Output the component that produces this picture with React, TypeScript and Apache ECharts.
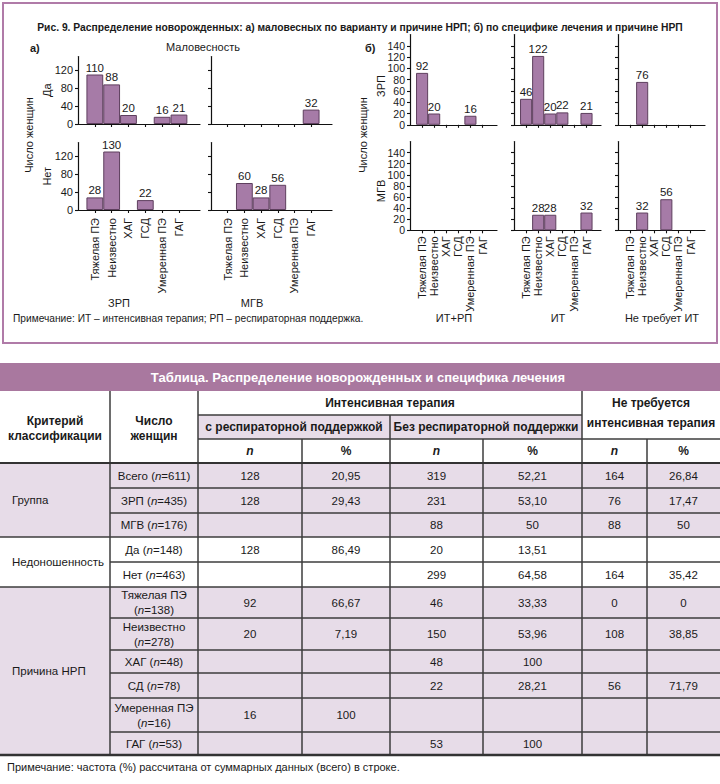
import React, { useEffect, useRef } from "react";
import * as echarts from "echarts";

// ---------- data ----------
const causes = ["Тяжелая ПЭ", "Неизвестно", "ХАГ", "ГСД", "Умеренная ПЭ", "ГАГ"];
const aTicks = [0, 40, 80, 120];
const bTicks = [0, 20, 40, 60, 80, 100, 120, 140];

// а) маловесность (Да/Нет) × вариант (ЗРП/МГВ)
const aZrpYes = [110, 88, 20, null, 16, 21];
const aMgvYes = [null, null, null, null, null, 32];
const aZrpNo = [28, 130, null, 22, null, null];
const aMgvNo = [null, 60, 28, 56, null, null];
// б) специфика лечения (ИТ+РП / ИТ / Не требует ИТ) × вариант
const bZrpItRp = [92, 20, null, null, 16, null];
const bZrpIt = [46, 122, 20, 22, null, 21];
const bZrpNone = [null, 76, null, null, null, null];
const bMgvItRp = [null, null, null, null, null, null];
const bMgvIt = [null, 28, 28, null, null, 32];
const bMgvNone = [null, 32, null, 56, null, null];

const aRowLabels = ["Да", "Нет"];
const aColLabels = ["ЗРП", "МГВ"];
const bRowLabels = ["ЗРП", "МГВ"];
const bColLabels = ["ИТ+РП", "ИТ", "Не требует ИТ"];

// table
const tableRowLabels = ["Всего", "ЗРП", "МГВ", "Да", "Нет", "Тяжелая ПЭ", "Неизвестно", "ХАГ", "СД", "Умеренная ПЭ", "ГАГ"];
const tableRowN = [611, 435, 176, 148, 463, 138, 278, 48, 78, 16, 53];
const itRpN = ["128", "128", "", "128", "", "92", "20", "", "", "16", ""];
const itRpPct = ["20,95", "29,43", "", "86,49", "", "66,67", "7,19", "", "", "100", ""];
const itN = ["319", "231", "88", "20", "299", "46", "150", "48", "22", "", "53"];
const itPct = ["52,21", "53,10", "50", "13,51", "64,58", "33,33", "53,96", "100", "28,21", "", "100"];
const noItN = ["164", "76", "88", "", "164", "0", "108", "", "56", "", ""];
const noItPct = ["26,84", "17,47", "50", "", "35,42", "0", "38,85", "", "71,79", "", ""];
const groupLabels = ["Группа", "Недоношенность", "Причина НРП"];
const groupSpans = [[0, 2], [3, 4], [5, 10]];

// ---------- style ----------
const FONT = '"Liberation Sans", Arial, Helvetica, sans-serif';
const INK = "#1a1a1a";
const BAR = "#a67ba7";
const BAR_EDGE = "#5e3f5e";
const PURPLE = "#a9789f";
const LAVENDER = "#e7dce8";
const GRIDLINE = "#3c3c3c";

function txt(text: string, x: number, y: number, o: any = {}) {
  return {
    type: "text",
    x,
    y,
    rotation: o.rot || 0,
    silent: true,
    style: {
      text,
      fill: o.color || INK,
      fontSize: o.size || 11,
      fontWeight: o.bold ? "bold" : "normal",
      fontStyle: o.italic ? "italic" : "normal",
      fontFamily: FONT,
      align: o.align || "center",
      verticalAlign: "middle",
      lineHeight: o.lh || undefined,
      rich: o.rich || undefined,
    },
  };
}
function ln(x1: number, y1: number, x2: number, y2: number, w = 1.5, c = GRIDLINE) {
  return { type: "line", silent: true, shape: { x1, y1, x2, y2 }, style: { stroke: c, lineWidth: w } };
}
function rc(x: number, y: number, width: number, height: number, style: any) {
  return { type: "rect", silent: true, shape: { x, y, width, height }, style };
}

export default function App() {
  const ref = useRef<HTMLDivElement>(null);

  useEffect(() => {
    if (!ref.current) return;
    const chart = echarts.init(ref.current, null, { renderer: "svg" });

    // panels
    const aCols = [{ left: 78, width: 122 }, { left: 211, width: 121 }];
    const aRows = [{ top: 56.5, height: 67.5 }, { top: 142.5, height: 67.5 }];
    const bCols = [{ left: 410, width: 87 }, { left: 514, width: 87 }, { left: 618, width: 87 }];
    const bRows = [{ top: 34.5, height: 90.3 }, { top: 141.5, height: 88.8 }];

    const panels: any[] = [];
    const aData = [[aZrpYes, aMgvYes], [aZrpNo, aMgvNo]];
    aData.forEach((row, r) =>
      row.forEach((d, c) =>
        panels.push({
          data: d, ...aCols[c], ...aRows[r], max: 150, ticks: aTicks, xmax: 6.25, bw: 16.8,
          showX: r === 1, showY: c === 0, xMargin: 8, yFont: 11,
        })
      )
    );
    const bData = [[bZrpItRp, bZrpIt, bZrpNone], [bMgvItRp, bMgvIt, bMgvNone]];
    bData.forEach((row, r) =>
      row.forEach((d, c) =>
        panels.push({
          data: d, ...bCols[c], ...bRows[r], max: 160, ticks: bTicks, xmax: 6.2, bw: 12.1,
          showX: r === 1, showY: c === 0, xMargin: 6, yFont: 10.5,
        })
      )
    );

    const axisLine = { show: true, onZero: false, lineStyle: { color: "#111", width: 1.2 } };
    const axisTickStyle = { color: "#111", width: 1.1 };
    const catIdx = causes.map((_, i) => i);

    const grid = panels.map((p) => ({
      left: p.left, top: p.top, width: p.width, height: p.height, containLabel: false, outerBoundsMode: "none",
    }));
    const xAxis = panels.map((p, i) => ({
      gridIndex: i, type: "value", min: -1, max: p.xmax,
      axisLine,
      axisTick: { show: true, length: 3, customValues: catIdx, lineStyle: axisTickStyle },
      axisLabel: {
        show: p.showX, customValues: catIdx, rotate: 90, margin: p.xMargin, fontSize: 11,
        color: INK, fontFamily: FONT, formatter: (v: number) => causes[Math.round(v)] ?? "",
      },
      splitLine: { show: false },
    }));
    const yAxis = panels.map((p, i) => ({
      gridIndex: i, type: "value", min: 0, max: p.max,
      axisLine,
      axisTick: { show: true, length: 3, customValues: p.ticks, lineStyle: axisTickStyle },
      axisLabel: { show: p.showY, customValues: p.ticks, margin: 5, fontSize: p.yFont, color: INK, fontFamily: FONT },
      splitLine: { show: false },
    }));
    const series = panels.map((p, i) => ({
      type: "bar", xAxisIndex: i, yAxisIndex: i, barWidth: p.bw, silent: true,
      data: p.data.map((v: number | null, k: number) => (v == null ? null : [k, v])).filter((x: any) => x),
      itemStyle: { color: BAR, borderColor: BAR_EDGE, borderWidth: 1 },
      label: {
        show: true, position: "top", distance: 1, fontSize: 11.5, color: INK, fontFamily: FONT,
        formatter: (q: any) => String(q.value[1]),
      },
    }));

    // ---------- graphic ----------
    const g: any[] = [];
    g.push(rc(3, 3, 714, 340, { fill: "none", stroke: "#b07ba8", lineWidth: 2 }));
    g.push(txt("Рис. 9. Распределение новорожденных: а) маловесных по варианту и причине НРП; б) по специфике лечения и причине НРП", 360, 27, { bold: true, size: 10.3 }));
    g.push(txt("а)", 30, 48, { bold: true, size: 11, align: "left" }));
    g.push(txt("Маловесность", 203, 47, { size: 11 }));
    g.push(txt("Число женщин", 29, 135, { rot: Math.PI / 2, size: 11 }));
    aRowLabels.forEach((t, r) => g.push(txt(t, 47, aRows[r].top + aRows[r].height / 2, { rot: Math.PI / 2, size: 11 })));
    aColLabels.forEach((t, c) => g.push(txt(t, aCols[c].left + 41, 303, { size: 11 })));
    g.push(txt("Примечание: ИТ – интенсивная терапия; РП – респираторная поддержка.", 13, 318, { size: 10.2, align: "left" }));

    g.push(txt("б)", 365, 48, { bold: true, size: 11, align: "left" }));
    g.push(txt("Число женщин", 363, 135, { rot: Math.PI / 2, size: 11 }));
    bRowLabels.forEach((t, r) => g.push(txt(t, 381, r === 0 ? 86 : 191, { rot: Math.PI / 2, size: 11 })));
    bColLabels.forEach((t, c) => g.push(txt(t, bCols[c].left + 44, 318, { size: 11 })));

    // ---------- table ----------
    const colX = [0, 110, 198, 302, 390, 483, 582, 647, 720];
    const rowY = [463, 488, 513, 537, 562, 587, 618, 650, 673, 698, 732, 755];
    g.push(rc(0, 363, 720, 28, { fill: PURPLE }));
    g.push(txt("Таблица. Распределение новорожденных и специфика лечения", 358, 377.5, { bold: true, size: 13, color: "#fff" }));
    // backgrounds
    g.push(rc(0, 463, 720, rowY[3] - 463, { fill: LAVENDER }));
    g.push(rc(0, rowY[5], 720, 755 - rowY[5], { fill: LAVENDER }));
    g.push(rc(198, 415, 384, 24, { fill: LAVENDER }));
    // vertical lines
    g.push(ln(110, 391, 110, 755));
    g.push(ln(198, 391, 198, 755));
    g.push(ln(302, 439, 302, 755));
    g.push(ln(390, 415, 390, 755));
    g.push(ln(483, 439, 483, 755));
    g.push(ln(582, 391, 582, 755));
    g.push(ln(647, 439, 647, 755));
    // horizontal lines
    g.push(ln(198, 415, 582, 415));
    g.push(ln(198, 439, 720, 439));
    g.push(ln(0, 463, 720, 463, 2, "#333"));
    rowY.slice(1, -1).forEach((y, k) => {
      const idx = k + 1;
      const full = groupSpans.some((s) => s[0] === idx);
      g.push(ln(full ? 0 : 110, y, 720, y));
    });
    g.push(ln(0, 755, 720, 755, 2.4, "#333"));
    // header text
    const hb = { bold: true, size: 12, lh: 15 };
    g.push(txt("Критерий\nклассификации", 55, 428, hb));
    g.push(txt("Число\nженщин", 154, 428, hb));
    g.push(txt("Интенсивная терапия", 390, 403, hb));
    g.push(txt("с респираторной поддержкой", 294, 427, hb));
    g.push(txt("Без респираторной поддержки", 486, 427, hb));
    g.push(txt("Не требуется\nинтенсивная терапия", 651, 413, { ...hb, lh: 20 }));
    const subHead = ["n", "%", "n", "%", "n", "%"];
    subHead.forEach((t, k) => {
      const cx = (colX[k + 2] + colX[k + 3]) / 2;
      g.push(txt(t, cx, 451, { bold: true, size: 12, italic: t === "n" }));
    });
    // group labels
    groupLabels.forEach((t, k) => {
      const [a, b] = groupSpans[k];
      g.push(txt(t, 12, (rowY[a] + rowY[b + 1]) / 2, { size: 11.5, align: "left" }));
    });
    const rich = { i: { fontStyle: "italic", fontSize: 11.5, fontFamily: FONT, fill: INK, lineHeight: 15 } };
    const cols = [itRpN, itRpPct, itN, itPct, noItN, noItPct];
    tableRowLabels.forEach((name, r) => {
      const y0 = rowY[r], y1 = rowY[r + 1];
      const cy = (y0 + y1) / 2;
      const two = y1 - y0 > 28;
      const label = two ? `${name}\n({i|n}=${tableRowN[r]})` : `${name} ({i|n}=${tableRowN[r]})`;
      g.push(txt(label, 154, cy, { size: 11.5, rich, lh: 15 }));
      cols.forEach((col, k) => {
        if (!col[r]) return;
        const cx = (colX[k + 2] + colX[k + 3]) / 2;
        g.push(txt(col[r], cx, cy, { size: 11.5 }));
      });
    });
    g.push(txt("Примечание: частота (%) рассчитана от суммарных данных (всего) в строке.", 7, 767, { size: 11, align: "left" }));

    chart.setOption({
      animation: false,
      textStyle: { fontFamily: FONT },
      grid,
      xAxis,
      yAxis,
      series,
      graphic: { elements: g },
    });

    return () => chart.dispose();
  }, []);

  return (
    <div
      ref={ref}
      style={{ position: "fixed", left: 0, top: 0, width: 720, height: 784, background: "#fff" }}
    />
  );
}
